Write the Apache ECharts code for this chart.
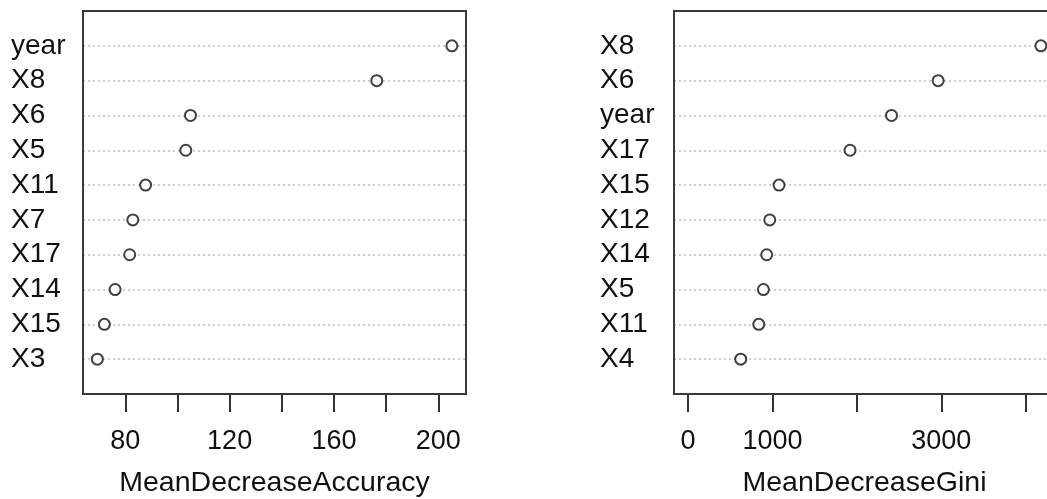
<!DOCTYPE html>
<html>
<head>
<meta charset="utf-8">
<script src="https://cdn.jsdelivr.net/npm/echarts@6/dist/echarts.min.js"></script>
<style>
html,body{margin:0;padding:0;background:#fff;}
#chart{width:1047px;height:499px;}
</style>
</head>
<body>
<div id="chart"></div>
<script>
// Left panel: MeanDecreaseAccuracy (bottom to top)
const accCategories = ['X3','X15','X14','X17','X7','X11','X5','X6','X8','year'];
const accValues     = [69.3, 72.0, 76.1, 81.7, 82.9, 87.8, 103.2, 105.0, 176.4, 205.2];
const accTicks      = [80, 100, 120, 140, 160, 180, 200];
const accTickLabels = [80, 120, 160, 200];
const accTitle = 'MeanDecreaseAccuracy';

// Right panel: MeanDecreaseGini (bottom to top)
const giniCategories = ['X4','X11','X5','X14','X12','X15','X17','year','X6','X8'];
const giniValues     = [624, 838, 893, 932, 968, 1078, 1919, 2410, 2962, 4179];
const giniTicks      = [0, 1000, 2000, 3000, 4000];
const giniTickLabels = [0, 1000, 3000];
const giniTitle = 'MeanDecreaseGini';

const FONT = '"Liberation Sans", Arial, sans-serif';
const rowPositions = n => Array.from({length: n}, (_, i) => i + 1);

function xAxisFor(gridIndex, min, max, ticks, labels, title) {
  return {
    type: 'value', gridIndex, min, max, name: title, z: 0,
    nameLocation: 'middle', nameGap: 75,
    nameTextStyle: {fontFamily: FONT, fontSize: 28.5, color: '#111'},
    axisLine: {show: false},
    axisTick: {show: true, inside: false, length: 18, customValues: ticks,
               lineStyle: {color: '#333', width: 2}},
    axisLabel: {customValues: labels, margin: 34, fontFamily: FONT, fontSize: 27, color: '#111',
                formatter: v => String(v)},
    splitLine: {show: false}
  };
}
function yAxisFor(gridIndex, cats, margin) {
  return {
    type: 'value', gridIndex, min: 0, max: cats.length + 1, interval: 1, z: 0,
    axisLine: {show: false},
    axisTick: {show: false},
    axisLabel: {customValues: rowPositions(cats.length), align: 'left', margin,
                fontFamily: FONT, fontSize: 28, color: '#111',
                formatter: v => cats[v - 1] || ''},
    splitLine: {show: true, lineStyle: {color: '#bdbdbd', type: [2, 3], width: 1.5}}
  };
}
function seriesFor(idx, cats, vals) {
  return {
    type: 'scatter', xAxisIndex: idx, yAxisIndex: idx,
    data: vals.map((v, i) => [v, i + 1]),
    symbol: 'circle', symbolSize: 11,
    itemStyle: {color: '#fff', borderColor: '#111', borderWidth: 2},
    silent: true, z: 5
  };
}

const chart = echarts.init(document.getElementById('chart'), null, {renderer: 'canvas'});
chart.setOption({
  animation: false,
  backgroundColor: '#fff',
  grid: [
    {left: 83, top: 11, width: 383, height: 383, show: true, z: 3, outerBoundsMode: 'none', containLabel: false,
     borderColor: '#3a3a3a', borderWidth: 2, backgroundColor: 'transparent'},
    {left: 674, top: 11, width: 381, height: 383, show: true, z: 3, outerBoundsMode: 'none', containLabel: false,
     borderColor: '#3a3a3a', borderWidth: 2, backgroundColor: 'transparent'}
  ],
  xAxis: [
    xAxisFor(0, 63.8, 210.6, accTicks, accTickLabels, accTitle),
    xAxisFor(1, -166, 4346, giniTicks, giniTickLabels, giniTitle)
  ],
  yAxis: [
    yAxisFor(0, accCategories, 72),
    yAxisFor(1, giniCategories, 74)
  ],
  series: [
    seriesFor(0, accCategories, accValues),
    seriesFor(1, giniCategories, giniValues)
  ]
});
</script>
</body>
</html>
